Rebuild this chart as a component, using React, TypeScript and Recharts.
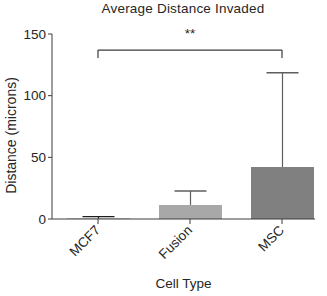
import React from "react";
import { BarChart, Bar, XAxis, YAxis, Cell, ReferenceLine } from "recharts";

// Average distance invaded per cell type (mean + upper SD)
const categories = ["MCF7", "Fusion", "MSC"];
const means = [0.3, 11.3, 42.2];
const upperErrors = [1.6, 11.4, 76.4];
const barColors = ["#2a2a2a", "#a8a8a8", "#808080"];
const whiskerColors = ["#1e1e1e", "#5e5e5e", "#5e5e5e"];
const yTicks = [0, 50, 100, 150];

// significance bracket between MCF7 and MSC
const bracketFrom = "MCF7";
const bracketTo = "MSC";
const bracketLevel = 137;
const bracketFoot = 130.5;
const bracketMark = "**";

const FONT = "'Liberation Sans', Arial, sans-serif";
const INK = "#262626";
const AXIS = "#3c3c3c";

const chartData = categories.map((name, i) => ({
  name,
  mean: means[i],
  err: upperErrors[i],
}));

// upper-only whisker drawn on the stacked "err" segment
const Whisker = (props: any) => {
  const { x, y, width, height, index } = props;
  const cx = x + width / 2;
  const color = whiskerColors[index];
  return (
    <g>
      <line x1={cx} x2={cx} y1={y} y2={y + height} stroke={color} strokeWidth={1.2} />
      <line x1={cx - 16} x2={cx + 16} y1={y} y2={y} stroke={color} strokeWidth={1.4} />
    </g>
  );
};

const SlantTick = (props: any) => {
  const { x, y, payload } = props;
  return (
    <text
      x={0}
      y={0}
      textAnchor="end"
      transform={`translate(${x + 3},${y + 5}) rotate(-45)`}
      fill={INK}
      fontSize={13.5}
      fontFamily={FONT}
    >
      {payload.value}
    </text>
  );
};

const YTitle = (props: any) => {
  const { viewBox } = props;
  const cy = viewBox.y + viewBox.height / 2 + 9;
  return (
    <text
      transform={`translate(${viewBox.x + 15.5},${cy}) rotate(-90)`}
      textAnchor="middle"
      fill={INK}
      fontSize={14}
      fontFamily={FONT}
    >
      Distance (microns)
    </text>
  );
};

export default function App() {
  return (
    <div style={{ position: "absolute", top: 0, left: 0, width: 327, height: 296, background: "#fff" }}>
      <BarChart
        width={327}
        height={296}
        data={chartData}
        margin={{ top: 34, right: 12, bottom: 0, left: 0 }}
        barSize={63}
      >
        <XAxis
          dataKey="name"
          height={77}
          padding={{ left: 0, right: -13 }}
          stroke={AXIS}
          tickSize={5}
          tickMargin={2}
          tick={<SlantTick />}
          interval={0}
          label={{
            value: "Cell Type",
            position: "insideBottom",
            offset: 8,
            style: { fill: INK, fontSize: 13.5, fontFamily: FONT },
          }}
        />
        <YAxis
          domain={[0, 150]}
          ticks={yTicks}
          width={52}
          stroke={AXIS}
          tickSize={4}
          tickMargin={2}
          interval={0}
          tick={{ fill: INK, fontSize: 13.5, fontFamily: FONT }}
          label={<YTitle />}
        />
        <Bar dataKey="mean" stackId="a" isAnimationActive={false}>
          {chartData.map((d, i) => (
            <Cell key={d.name} fill={barColors[i]} />
          ))}
        </Bar>
        <Bar dataKey="err" stackId="a" fill="none" shape={<Whisker />} isAnimationActive={false} />
        <ReferenceLine
          segment={[
            { x: bracketFrom, y: bracketLevel },
            { x: bracketTo, y: bracketLevel },
          ]}
          stroke={AXIS}
          strokeWidth={1.2}
          label={{
            value: bracketMark,
            position: "top",
            offset: 12,
            style: { fill: INK, fontSize: 13.5, fontFamily: FONT },
          }}
        />
        <ReferenceLine
          segment={[
            { x: bracketFrom, y: bracketFoot },
            { x: bracketFrom, y: bracketLevel },
          ]}
          stroke={AXIS}
          strokeWidth={1.2}
        />
        <ReferenceLine
          segment={[
            { x: bracketTo, y: bracketFoot },
            { x: bracketTo, y: bracketLevel },
          ]}
          stroke={AXIS}
          strokeWidth={1.2}
        />
      </BarChart>
      <div
        style={{
          position: "absolute",
          top: 1,
          left: 0,
          width: 366,
          textAlign: "center",
          fontFamily: FONT,
          fontSize: 13.5,
          letterSpacing: 0.2,
          color: INK,
          lineHeight: "15px",
          zIndex: 2,
        }}
      >
        Average Distance Invaded
      </div>
    </div>
  );
}
